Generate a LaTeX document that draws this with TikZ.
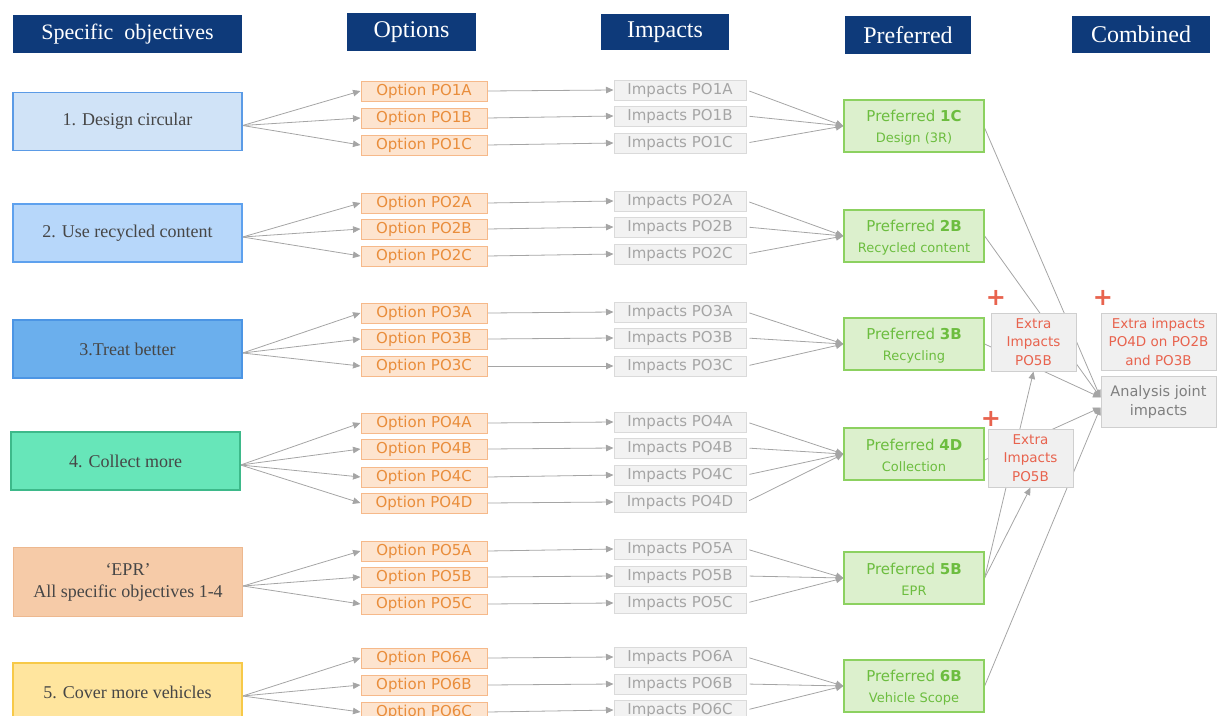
\documentclass[tikz,border=0pt]{standalone}
\usepackage{fontspec}
\setmainfont{Liberation Serif}
\newfontfamily\sansf{DejaVu Sans}
\usetikzlibrary{arrows.meta}
\pgfdeclarelayer{bg}
\pgfsetlayers{bg,main}
\definecolor{navy}{RGB}{14,58,122}
\definecolor{objtext}{RGB}{70,70,70}
\definecolor{fA}{RGB}{208,227,247}\definecolor{dA}{RGB}{91,155,230}
\definecolor{fB}{RGB}{183,215,250}\definecolor{dB}{RGB}{94,161,238}
\definecolor{fC}{RGB}{107,175,237}\definecolor{dC}{RGB}{76,149,228}
\definecolor{fD}{RGB}{103,230,185}\definecolor{dD}{RGB}{61,185,138}
\definecolor{fE}{RGB}{246,203,168}\definecolor{dE}{RGB}{237,184,143}
\definecolor{fF}{RGB}{255,229,158}\definecolor{dF}{RGB}{247,201,72}
\definecolor{optfill}{RGB}{253,228,207}\definecolor{optdraw}{RGB}{246,185,138}\definecolor{opttext}{RGB}{233,141,59}
\definecolor{impfill}{RGB}{242,242,242}\definecolor{impdraw}{RGB}{218,218,218}\definecolor{imptext}{RGB}{165,165,165}
\definecolor{preffill}{RGB}{220,240,205}\definecolor{prefdraw}{RGB}{140,209,96}\definecolor{preftext}{RGB}{108,189,63}
\definecolor{xfill}{RGB}{240,240,240}\definecolor{xdraw}{RGB}{207,207,207}\definecolor{xtext}{RGB}{232,99,78}
\definecolor{antext}{RGB}{127,127,127}
\definecolor{arrgray}{RGB}{165,165,165}
\begin{document}
\begin{tikzpicture}[x=1pt,y=-1pt,
  hdr/.style={fill=navy,text=white,inner sep=0pt,font=\fontsize{24}{28}\selectfont},
  obj/.style={draw,line width=1.2pt,inner sep=0pt,minimum width=229pt,minimum height=58pt,text=objtext,align=center,font=\fontsize{18}{22}\selectfont},
  opt/.style={draw=optdraw,fill=optfill,text=opttext,line width=1pt,inner sep=0pt,minimum width=126pt,minimum height=20pt,font=\sansf\fontsize{15}{18}\selectfont},
  imp/.style={draw=impdraw,fill=impfill,text=imptext,line width=1pt,inner sep=0pt,minimum width=132pt,minimum height=20pt,font=\sansf\fontsize{15}{18}\selectfont},
  pref/.style={draw=prefdraw,fill=preffill,text=preftext,line width=1.2pt,inner sep=0pt,minimum width=140pt,minimum height=52pt,align=center,font=\sansf\fontsize{15}{21}\selectfont},
  xbox/.style={draw=xdraw,fill=xfill,text=xtext,line width=1pt,inner sep=0pt,align=center,font=\sansf\fontsize{13.5}{18.5}\selectfont},
  plus/.style={text=xtext,inner sep=0pt,font=\sansf\bfseries\fontsize{24}{24}\selectfont},
  arr/.style={draw=arrgray,line width=0.8pt,-{Triangle[length=7.5pt,width=6.5pt]}}
]
\useasboundingbox (0,0) rectangle (1217,715);
\begin{scope}
\clip (0,0) rectangle (1217,715);
% headers
\node[hdr,minimum width=229pt,minimum height=38pt,font=\fontsize{22}{26}\selectfont] (h1) at (127.5,34) {Specific\ \ objectives};
\node[hdr,minimum width=129pt,minimum height=38pt] (h2) at (411.5,32) {Options};
\node[hdr,minimum width=128pt,minimum height=36pt] (h3) at (665,32) {Impacts};
\node[hdr,minimum width=126pt,minimum height=38pt] (h4) at (908,35) {Preferred};
\node[hdr,minimum width=138pt,minimum height=37pt] (h5) at (1141,34.5) {Combined};
% objectives
\node[obj,draw=dA,fill=fA] (s1) at (127.5,121.5) {1. Design circular};
\node[obj,draw=dB,fill=fB] (s2) at (127.5,233) {2. Use recycled content};
\node[obj,draw=dC,fill=fC] (s3) at (127.5,349) {3.Treat better};
\node[obj,draw=dD,fill=fD] (s4) at (125.5,461) {4. Collect more};
\node[obj,draw=dE,fill=fE,minimum height=69pt] (s5) at (128,582) {‘EPR’\\All specific objectives 1-4};
\node[obj,draw=dF,fill=fF] (s6) at (127.5,692) {5. Cover more vehicles};
% options and impacts
\foreach \k/\oy/\iy in {A/91/90,B/118/116,C/145/143}{
  \node[opt] (o1\k) at (424,\oy) {Option PO1\k};
  \node[imp] (i1\k) at (680,\iy) {Impacts PO1\k};}
\foreach \k/\oy/\iy in {A/203/201,B/229/227,C/256/254}{
  \node[opt] (o2\k) at (424,\oy) {Option PO2\k};
  \node[imp] (i2\k) at (680,\iy) {Impacts PO2\k};}
\foreach \k/\oy/\iy in {A/313/312,B/339/338,C/366/366}{
  \node[opt] (o3\k) at (424,\oy) {Option PO3\k};
  \node[imp] (i3\k) at (680,\iy) {Impacts PO3\k};}
\foreach \k/\oy/\iy in {A/423/422,B/449/448,C/477/475,D/503/502}{
  \node[opt] (o4\k) at (424,\oy) {Option PO4\k};
  \node[imp] (i4\k) at (680,\iy) {Impacts PO4\k};}
\foreach \k/\oy/\iy in {A/551/549,B/577/576,C/604/603}{
  \node[opt] (o5\k) at (424,\oy) {Option PO5\k};
  \node[imp] (i5\k) at (680,\iy) {Impacts PO5\k};}
\foreach \k/\oy/\iy in {A/658/657,B/685/684,C/712/710}{
  \node[opt] (o6\k) at (424,\oy) {Option PO6\k};
  \node[imp] (i6\k) at (680,\iy) {Impacts PO6\k};}
% preferred
\node[pref] (p1) at (914,126) {\strut Preferred \textbf{1C}\\{\fontsize{13}{15}\selectfont Design (3R)}};
\node[pref] (p2) at (914,236) {\strut Preferred \textbf{2B}\\{\fontsize{13}{15}\selectfont Recycled content}};
\node[pref] (p3) at (914,344) {\strut Preferred \textbf{3B}\\{\fontsize{13}{15}\selectfont Recycling}};
\node[pref] (p4) at (914,454) {\strut Preferred \textbf{4D}\\{\fontsize{13}{15}\selectfont Collection}};
\node[pref] (p5) at (914,578) {\strut Preferred \textbf{5B}\\{\fontsize{13}{15}\selectfont EPR}};
\node[pref] (p6) at (914,686) {\strut Preferred \textbf{6B}\\{\fontsize{13}{15}\selectfont Vehicle Scope}};
% combined
\node[xbox,minimum width=85pt,minimum height=58pt] (ex1) at (1033.5,342) {Extra\\Impacts\\PO5B};
\node[xbox,minimum width=85pt,minimum height=58pt] (ex2) at (1030.5,458) {Extra\\Impacts\\PO5B};
\node[xbox,minimum width=115pt,minimum height=57pt] (ex3) at (1158.5,341.5) {Extra impacts\\PO4D on PO2B\\and PO3B};
\node[xbox,text=antext,minimum width=115pt,minimum height=51pt,font=\sansf\fontsize{14.5}{19}\selectfont] (an) at (1158.5,401.5) {Analysis joint\\impacts};
\node[plus] (pl1) at (996,298) {+};
\node[plus] (pl2) at (1103,298) {+};
\node[plus] (pl3) at (991,419) {+};
\coordinate (anU) at ([yshift=4pt]an.west);
\coordinate (anL) at ([yshift=-6pt]an.west);
\end{scope}
\begin{pgfonlayer}{bg}
\clip (0,0) rectangle (1217,715);
\foreach \g/\ls in {1/{A,B,C},2/{A,B,C},3/{A,B,C},4/{A,B,C,D},5/{A,B,C},6/{A,B,C}}{
  \foreach \k in \ls {
    \draw[arr] ([yshift=-4pt]s\g.east) -- (o\g\k.west);
    \draw[arr] (o\g\k.east) -- (i\g\k.west);
    \draw[arr,shorten <=3pt] (i\g\k.east) -- (p\g.west);
  }}
\draw[arr] ([yshift=-2pt]p1.east) -- (anU);
\draw[arr] (p2.east) -- (anU);
\draw[arr] (p3.east) -- (anU);
\draw[arr] ([yshift=-6pt]p4.east) -- (anL);
\draw[arr] (p6.east) -- (anL);
\draw[arr] (p5.east) -- (ex2.south);
\draw[arr] (p5.east) -- (ex1.south);
\end{pgfonlayer}
\end{tikzpicture}
\end{document}
